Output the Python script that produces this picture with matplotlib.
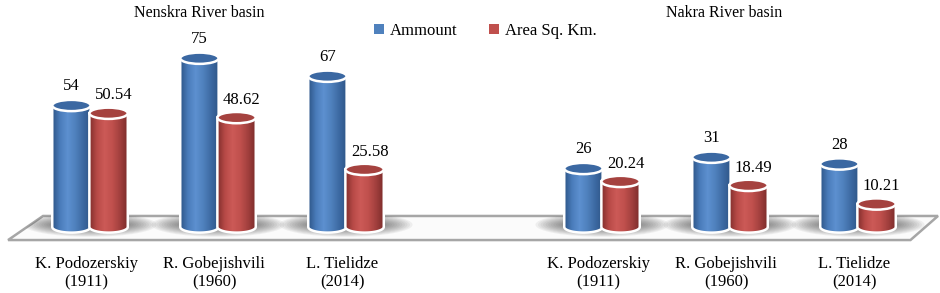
import numpy as np
import matplotlib
matplotlib.use("Agg")
from matplotlib import pyplot as plt
from matplotlib.patches import Ellipse, PathPatch, Polygon, Patch
from matplotlib.path import Path
from matplotlib.colors import LinearSegmentedColormap

# Data
authors = ["K. Podozerskiy\n(1911)", "R. Gobejishvili\n(1960)", "L. Tielidze\n(2014)"]
basins = ["Nenskra River basin", "Nakra River basin"]
nenskra_amount = [54, 75, 67]
nenskra_area = [50.54, 48.62, 25.58]
nakra_amount = [26, 31, 28]
nakra_area = [20.24, 18.49, 10.21]

plt.rcParams['font.family'] = ['Liberation Serif', 'DejaVu Serif']

fig = plt.figure(figsize=(9.4, 2.93), dpi=100)
ax = fig.add_axes([0, 0, 1, 1])
ax.set_axis_off()

# layout: 7 slots, middle one empty between the two basins
slots_left = np.arange(3)
slots_right = np.arange(4, 7)
bw = 0.30     # cylinder width
eh = 2.5      # half-height of the ellipse caps (value units)
off = 0.145

blue_cmap = LinearSegmentedColormap.from_list(
    "b", ["#2c5486", "#4a7cba", "#5d90d0", "#4f81bd", "#3d6aa3", "#2e5688"])
red_cmap = LinearSegmentedColormap.from_list(
    "r", ["#7f2d2b", "#b84a47", "#cc5a57", "#c0504d", "#a2403e", "#7c2c2a"])
blue_top = "#3b68a2"
red_top = "#a5423f"

# floor
floor = Polygon([(-0.64, -5.8), (6.41, -5.8), (6.625, 4.9), (-0.367, 4.9)],
                closed=True, facecolor="#fbfbfb", edgecolor="#a6a6a6",
                lw=1.8, zorder=1)
ax.add_patch(floor)

grad = np.linspace(0, 1, 64).reshape(1, -1)


def cylinder(x, v, cmap, topc, z):
    t = np.linspace(np.pi, 2 * np.pi, 40)
    arc = np.column_stack([x + bw / 2 * np.cos(t), eh * np.sin(t)])
    verts = np.vstack([[x - bw / 2, v], arc, [x + bw / 2, v], [x - bw / 2, v]])
    path = Path(verts, closed=True)
    body = PathPatch(path, facecolor="none", edgecolor="none", zorder=z)
    ax.add_patch(body)
    im = ax.imshow(grad, extent=[x - bw / 2, x + bw / 2, -eh, v], aspect="auto",
                   cmap=cmap, zorder=z, interpolation="bilinear")
    im.set_clip_path(body)
    ax.add_patch(PathPatch(path, facecolor="none", edgecolor="white",
                           lw=1.8, zorder=z + 0.1))
    ax.add_patch(Ellipse((x, v), bw, 2 * eh, facecolor=topc,
                         edgecolor="white", lw=1.8, zorder=z + 0.2))


def shadow(xc):
    for k in range(12):
        e = Ellipse((xc, 1.0), 0.6 + 0.04 * k, 3.0 + 0.7 * k,
                    facecolor="#4a4a4a", edgecolor="none", alpha=0.07, zorder=2)
        ax.add_patch(e)
        e.set_clip_path(floor)


def draw_group(slots, amount, area):
    for i, x in enumerate(slots):
        shadow(x)
        cylinder(x - off, amount[i], blue_cmap, blue_top, 3)
        cylinder(x + off, area[i], red_cmap, red_top, 4)
        ax.annotate(f"{amount[i]}", (x - off, amount[i] + eh), xytext=(0, 4),
                    textcoords="offset points", ha="center", va="bottom",
                    fontsize=12)
        ax.annotate(f"{area[i]:.2f}", (x + off + 0.04, area[i] + eh), xytext=(0, 3),
                    textcoords="offset points", ha="center", va="bottom",
                    fontsize=12)
        ax.text(x - 0.03, -20.5, authors[i], ha="center", va="center",
                fontsize=12, linespacing=1.25)


draw_group(slots_left, nenskra_amount, nenskra_area)
draw_group(slots_right, nakra_amount, nakra_area)

ax.text(0.212, 0.955, basins[0], transform=ax.transAxes, ha="center",
        va="center", fontsize=11.5)
ax.text(0.770, 0.955, basins[1], transform=ax.transAxes, ha="center",
        va="center", fontsize=11.5)

handles = [Patch(facecolor="#4f81bd", edgecolor="none", label="Ammount"),
           Patch(facecolor="#c0504d", edgecolor="none", label="Area Sq. Km.")]
ax.legend(handles=handles, loc="center", bbox_to_anchor=(0.516, 0.894),
          ncol=2, frameon=False, fontsize=12, handlelength=0.6,
          handleheight=0.6, handletextpad=0.35, columnspacing=1.9)

ax.set_xlim(-90 / 128, 850 / 128)
ax.set_ylim(-66 / 2.25, 227 / 2.25)

fig.savefig("out.png", dpi=100)
